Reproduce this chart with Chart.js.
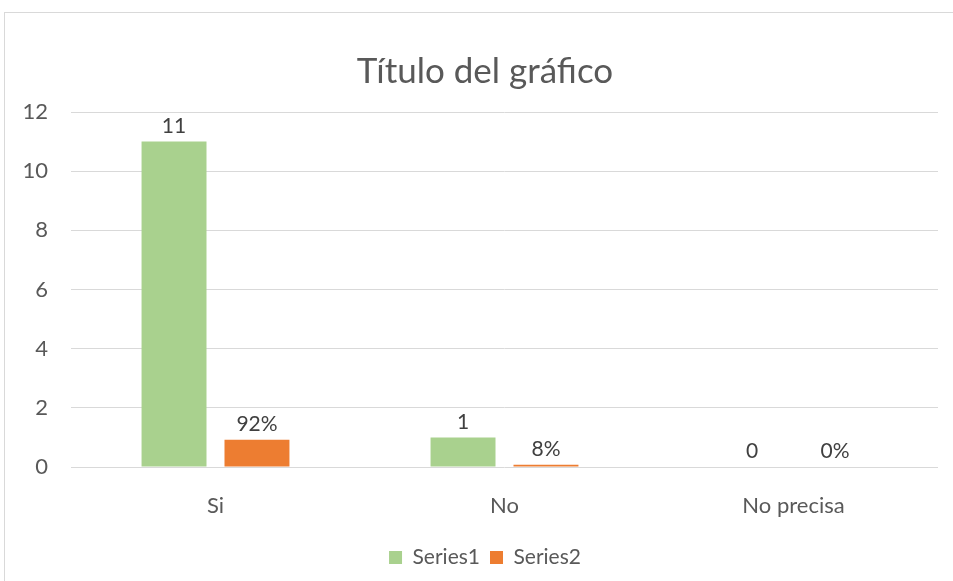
<!DOCTYPE html>
<html>
<head>
<meta charset="utf-8">
<script src="https://cdn.jsdelivr.net/npm/chart.js@4/dist/chart.umd.min.js"></script>
<style>
  html, body { margin: 0; padding: 0; background: #fff; overflow: hidden; }
  #wrap { position: relative; width: 953px; height: 581px; overflow: hidden; }
  #frame { position: absolute; left: 4px; top: 12px; width: 980px; height: 620px; border: 1px solid #d9d9d9; box-sizing: border-box; }
  #box { position: absolute; left: 0; top: 0; width: 953px; height: 581px; }
</style>
</head>
<body>
<div id="wrap">
  <div id="frame"></div>
  <div id="box"><canvas id="c" width="953" height="581"></canvas></div>
</div>
<script>
const categories = ['Si', 'No', 'No precisa'];
const series1 = [11, 1, 0];
const series2 = [0.92, 0.08, 0];
const seriesNames = ['Series1', 'Series2'];
const yMin = 0, yMax = 12, yStep = 2;

const FONT = 'Lato, "Liberation Sans", sans-serif';
const TEXT = '#595959';

const dataLabels = {
  id: 'dataLabels',
  afterDatasetsDraw(chart) {
    const ctx = chart.ctx;
    ctx.save();
    ctx.font = '21px ' + FONT;
    ctx.fillStyle = '#404040';
    ctx.textAlign = 'center';
    ctx.textBaseline = 'bottom';
    chart.data.datasets.forEach((ds, di) => {
      const meta = chart.getDatasetMeta(di);
      meta.data.forEach((el, i) => {
        const v = ds.data[i];
        const txt = di === 1 ? Math.round(v * 100) + '%' : String(v);
        ctx.fillText(txt, el.x, el.y - 5);
      });
    });
    ctx.restore();
  }
};

// Centre title and legend over the original (wider) chart frame
const shiftBoxes = {
  id: 'shiftBoxes',
  afterLayout(chart) {
    if (chart.titleBlock) { chart.titleBlock.left = 32; chart.titleBlock.right = 938; }
    if (chart.legend) { chart.legend.left = 32; chart.legend.right = 938; }
  }
};

new Chart(document.getElementById('c'), {
  type: 'bar',
  data: {
    labels: categories,
    datasets: [
      { label: seriesNames[0], data: series1, backgroundColor: '#A9D18E', barPercentage: 0.783, categoryPercentage: 0.574 },
      { label: seriesNames[1], data: series2, backgroundColor: '#ED7D31', barPercentage: 0.783, categoryPercentage: 0.574 }
    ]
  },
  options: {
    responsive: false,
    animation: false,
    layout: { padding: { left: 0, right: 15, top: 0, bottom: 3 } },
    plugins: {
      title: {
        display: true,
        text: 'Título del gráfico',
        color: TEXT,
        font: { family: FONT, size: 35, weight: 'normal' },
        padding: { top: 51, bottom: 19 }
      },
      legend: {
        display: true,
        position: 'bottom',
        labels: {
          color: TEXT,
          font: { family: FONT, size: 21 },
          boxWidth: 13,
          boxHeight: 13,
          padding: 10
        }
      },
      tooltip: { enabled: false }
    },
    scales: {
      x: {
        grid: { display: false, drawTicks: false },
        border: { display: false },
        ticks: { color: TEXT, font: { family: FONT, size: 22 }, padding: 26 },
        afterFit(s) { s.height = 70; }
      },
      y: {
        min: yMin, max: yMax,
        grid: { color: '#d9d9d9', lineWidth: 1, drawTicks: false },
        border: { display: false },
        ticks: { stepSize: yStep, color: TEXT, font: { family: FONT, size: 22 }, padding: 23 },
        afterFit(s) { s.width = 71; }
      }
    }
  },
  plugins: [dataLabels, shiftBoxes]
});
</script>
</body>
</html>
